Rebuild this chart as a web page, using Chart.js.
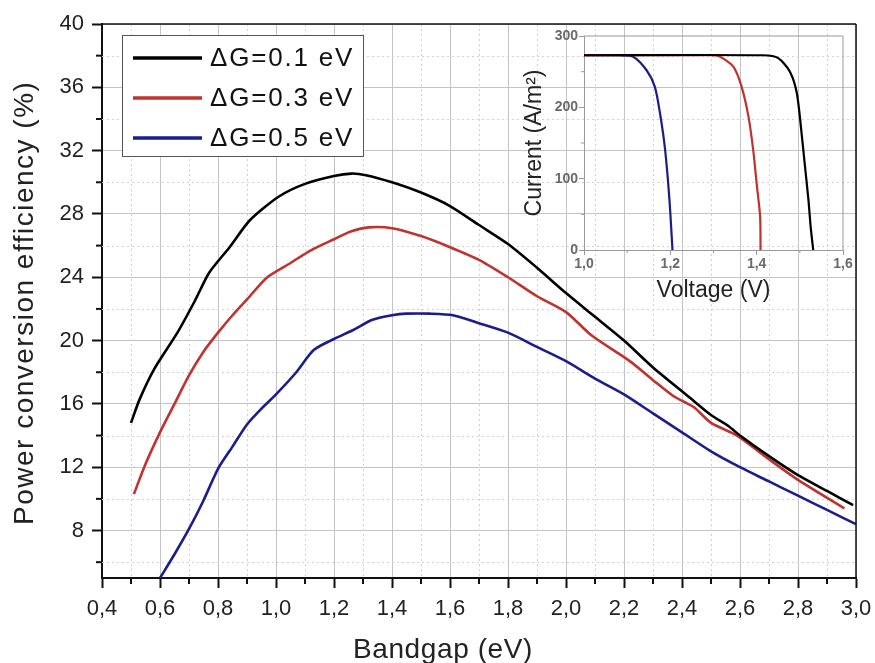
<!DOCTYPE html>
<html>
<head>
<meta charset="utf-8">
<title>Power conversion efficiency vs bandgap</title>
<script src="https://cdn.jsdelivr.net/npm/chart.js@4"></script>
<style>
    body { margin: 0; background: #fff; }
    #wrap { position: relative; width: 875px; height: 663px; }
    #main { position: absolute; left: 0; top: 0; }
    #inset { position: absolute; left: 500px; top: 20px; }
</style>
</head>
<body>

<div id="wrap">
    <canvas id="main" width="875" height="663"></canvas>
    <canvas id="inset" width="365" height="300"></canvas>
</div>

<script>
// ---- data ----
const seriesLabels = ['ΔG=0.1 eV', 'ΔG=0.3 eV', 'ΔG=0.5 eV'];
const seriesColors = ['#000000', '#c0322e', '#1c1c8a'];

// main plot: efficiency (%) vs bandgap (eV)
const gap01 = [0.50, 0.53, 0.58, 0.66, 0.72, 0.77, 0.84, 0.91, 1.01, 1.10, 1.20, 1.26, 1.31, 1.40, 1.50, 1.60, 1.70, 1.80, 1.90, 2.00, 2.10, 2.20, 2.30, 2.42, 2.50, 2.56, 2.60, 2.70, 2.80, 2.90, 2.99];
const eff01 = [14.8, 16.3, 18.2, 20.5, 22.5, 24.3, 25.9, 27.6, 29.1, 29.9, 30.4, 30.55, 30.45, 30.0, 29.35, 28.5, 27.3, 26.1, 24.6, 23.0, 21.5, 20.0, 18.3, 16.5, 15.3, 14.6, 14.0, 12.7, 11.5, 10.5, 9.6];

const gap03 = [0.51, 0.55, 0.60, 0.65, 0.70, 0.75, 0.80, 0.85, 0.90, 0.97, 1.05, 1.12, 1.20, 1.26, 1.32, 1.40, 1.50, 1.60, 1.70, 1.80, 1.90, 2.00, 2.09, 2.22, 2.30, 2.37, 2.44, 2.50, 2.59, 2.70, 2.80, 2.96];
const eff03 = [10.3, 12.2, 14.2, 16.0, 17.8, 19.3, 20.5, 21.6, 22.6, 24.0, 24.9, 25.7, 26.4, 26.9, 27.15, 27.1, 26.6, 25.9, 25.1, 24.0, 22.8, 21.8, 20.3, 18.7, 17.5, 16.5, 15.8, 14.8, 14.0, 12.5, 11.2, 9.4];

const gap05 = [0.60, 0.65, 0.70, 0.75, 0.80, 0.85, 0.90, 0.95, 1.00, 1.07, 1.13, 1.20, 1.27, 1.33, 1.40, 1.45, 1.53, 1.61, 1.70, 1.80, 1.90, 2.00, 2.10, 2.20, 2.30, 2.40, 2.50, 2.60, 2.70, 2.80, 2.90, 3.00];
const eff05 = [5.0, 6.5, 8.1, 9.9, 11.9, 13.3, 14.7, 15.7, 16.6, 18.0, 19.4, 20.1, 20.7, 21.3, 21.6, 21.7, 21.7, 21.6, 21.1, 20.5, 19.6, 18.7, 17.6, 16.6, 15.4, 14.2, 13.0, 12.0, 11.1, 10.2, 9.3, 8.4];

const xTicks = [0.4, 0.6, 0.8, 1.0, 1.2, 1.4, 1.6, 1.8, 2.0, 2.2, 2.4, 2.6, 2.8, 3.0];
const xMinor = [0.5, 0.7, 0.9, 1.1, 1.3, 1.5, 1.7, 1.9, 2.1, 2.3, 2.5, 2.7, 2.9];
const yTicks = [8, 12, 16, 20, 24, 28, 32, 36, 40];
const yMinor = [6, 10, 14, 18, 22, 26, 30, 34, 38];

// inset: current (A/m2) vs voltage (V)
const volt01 = [1.00, 1.415, 1.450, 1.477, 1.493, 1.504, 1.512, 1.520, 1.525, 1.531];
const curr01 = [273, 273, 269, 250, 220, 164, 117, 70, 33, 0];
const volt03 = [1.00, 1.292, 1.315, 1.346, 1.365, 1.381, 1.392, 1.400, 1.408, 1.409];
const curr03 = [273, 273, 271, 257, 229, 187, 140, 93, 47, 0];
const volt05 = [1.00, 1.083, 1.114, 1.145, 1.164, 1.176, 1.188, 1.198, 1.205];
const curr05 = [273, 273, 271, 252, 229, 192, 140, 70, 0];

const insetXTicks = [1.0, 1.2, 1.4, 1.6];
const insetXMinor = [1.1, 1.3, 1.5];
const insetYTicks = [0, 100, 200, 300];
const insetYMinor = [50, 150, 250];

// ---- helpers ----
const font = "'Liberation Sans', Arial, sans-serif";
const pts = (xs, ys) => xs.map((x, i) => ({ x: x, y: ys[i] }));
const comma = v => v.toFixed(1).replace('.', ',');

function seg(ctx, x1, y1, x2, y2) {
    ctx.beginPath();
    ctx.moveTo(x1, y1);
    ctx.lineTo(x2, y2);
    ctx.stroke();
}

// keep the plot edges where the figure has them, whatever the labels want
function fixBox(size, prop) {
    return ax => {
        ax[prop] = size;
        ax.paddingLeft = 0;
        ax.paddingRight = 0;
        ax.paddingTop = 0;
        ax.paddingBottom = 0;
    };
}

// minor grid, minor ticks, frame, axis titles and legend
const extras = {
    id: 'extras',
    beforeDatasetsDraw(chart, args, o) {
        if (!o.minorGrid) return;
        const { ctx, chartArea: a, scales: { x, y } } = chart;
        ctx.save();
        ctx.strokeStyle = o.minorGrid;
        ctx.lineWidth = 1;
        ctx.setLineDash([2, 3]);
        o.xMinor.forEach(v => {
            const px = Math.round(x.getPixelForValue(v)) + 0.5;
            seg(ctx, px, a.top, px, a.bottom);
        });
        o.yMinor.forEach(v => {
            const py = Math.round(y.getPixelForValue(v)) + 0.5;
            seg(ctx, a.left, py, a.right, py);
        });
        ctx.restore();
    },
    afterDraw(chart, args, o) {
        const { ctx, chartArea: a, scales: { x, y } } = chart;
        ctx.save();

        // minor ticks
        ctx.strokeStyle = o.tickColor;
        ctx.lineWidth = o.tickWidth;
        o.xMinor.forEach(v => {
            const px = x.getPixelForValue(v);
            seg(ctx, px, a.bottom, px, a.bottom + o.minorLen);
        });
        o.yMinor.forEach(v => {
            const py = y.getPixelForValue(v);
            seg(ctx, a.left - o.minorLen, py, a.left, py);
        });

        // top and right frame
        ctx.strokeStyle = o.frameColor;
        ctx.lineWidth = o.frameWidth;
        seg(ctx, a.left, a.top, a.right, a.top);
        seg(ctx, a.right, a.top, a.right, a.bottom);

        // axis titles (the figure sets them wide, so drawn here with spacing)
        if (o.titles) {
            ctx.fillStyle = '#222';
            ctx.textAlign = 'left';
            ctx.textBaseline = 'alphabetic';
            ctx.font = '28px ' + font;
            ctx.letterSpacing = '0.6px';
            ctx.fillText(o.titles.x, a.left + 251, a.bottom + 79.5);
            ctx.save();
            ctx.translate(a.left - 69, a.bottom - 53);
            ctx.rotate(-Math.PI / 2);
            ctx.letterSpacing = '1.5px';
            ctx.fillText(o.titles.y, 0, 0);
            ctx.restore();
        }

        // legend box
        if (o.legend) {
            const bx = a.left + 20, by = a.top + 11, bw = 241, bh = 121;
            ctx.fillStyle = '#fff';
            ctx.fillRect(bx, by, bw, bh);
            ctx.strokeStyle = '#555';
            ctx.lineWidth = 1;
            ctx.strokeRect(bx + 0.5, by + 0.5, bw, bh);
            ctx.font = '26px ' + font;
            ctx.textAlign = 'left';
            ctx.textBaseline = 'middle';
            ctx.letterSpacing = '1.8px';
            chart.data.datasets.forEach((ds, i) => {
                const ly = by + 23 + i * 40;
                ctx.strokeStyle = ds.borderColor;
                ctx.lineWidth = 3.5;
                seg(ctx, bx + 11, ly, bx + 80, ly);
                ctx.fillStyle = '#111';
                ctx.fillText(ds.label, bx + 88, ly + 1);
            });
        }
        ctx.restore();
    }
};

function lineSet(i, xs, ys, width) {
    return {
        label: seriesLabels[i],
        data: pts(xs, ys),
        borderColor: seriesColors[i],
        borderWidth: width,
        pointRadius: 0,
        tension: 0.25,
        fill: false
    };
}

// ---- main chart ----
new Chart(document.getElementById('main'), {
    type: 'line',
    data: {
        datasets: [
            lineSet(0, gap01, eff01, 2.6),
            lineSet(1, gap03, eff03, 2.6),
            lineSet(2, gap05, eff05, 2.6)
        ]
    },
    options: {
        responsive: false,
        animation: false,
        layout: { padding: { left: 0, top: 24, right: 19, bottom: 0 } },
        plugins: {
            legend: { display: false },
            tooltip: { enabled: false },
            extras: {
                xMinor: xMinor, yMinor: yMinor,
                minorGrid: '#d2d2d2', minorLen: 6,
                tickColor: '#111', tickWidth: 2,
                frameColor: '#111', frameWidth: 1.5,
                titles: { x: 'Bandgap (eV)', y: 'Power conversion efficiency (%)' },
                legend: true
            }
        },
        scales: {
            x: {
                type: 'linear', min: 0.4, max: 3.0,
                afterBuildTicks: ax => { ax.ticks = xTicks.map(v => ({ value: v })); },
                afterFit: fixBox(85, 'height'),
                ticks: { callback: comma, color: '#222', font: { family: font, size: 22 }, padding: 8, maxRotation: 0, autoSkip: false },
                grid: { color: '#c4c4c4', lineWidth: 1, tickLength: 10, tickColor: '#111', tickWidth: 2 },
                border: { color: '#111', width: 2 }
            },
            y: {
                type: 'linear', min: 5, max: 40,
                afterBuildTicks: ax => { ax.ticks = yTicks.map(v => ({ value: v })); },
                afterFit: fixBox(102, 'width'),
                ticks: { color: '#222', font: { family: font, size: 22 }, padding: 8, autoSkip: false },
                grid: { color: '#c4c4c4', lineWidth: 1, tickLength: 10, tickColor: '#111', tickWidth: 2 },
                border: { color: '#111', width: 2 }
            }
        }
    },
    plugins: [extras]
});

// ---- inset chart ----
new Chart(document.getElementById('inset'), {
    type: 'line',
    data: {
        datasets: [
            lineSet(0, volt01, curr01, 2.2),
            lineSet(1, volt03, curr03, 2.2),
            lineSet(2, volt05, curr05, 2.2)
        ]
    },
    options: {
        responsive: false,
        animation: false,
        layout: { padding: { left: 0, top: 16, right: 22, bottom: 0 } },
        plugins: {
            legend: { display: false },
            tooltip: { enabled: false },
            extras: {
                xMinor: insetXMinor, yMinor: insetYMinor,
                minorGrid: null, minorLen: 3,
                tickColor: '#999', tickWidth: 1,
                frameColor: '#999', frameWidth: 1,
                legend: false
            }
        },
        scales: {
            x: {
                type: 'linear', min: 1.0, max: 1.6,
                afterBuildTicks: ax => { ax.ticks = insetXTicks.map(v => ({ value: v })); },
                afterFit: fixBox(70, 'height'),
                ticks: { callback: comma, color: '#6a6a6a', font: { family: font, size: 14, weight: 'bold' }, padding: 1, maxRotation: 0, autoSkip: false },
                grid: { drawOnChartArea: false, tickLength: 5, tickColor: '#999', tickWidth: 1 },
                border: { color: '#999', width: 1 },
                title: { display: true, text: 'Voltage (V)', color: '#222', font: { family: font, size: 23 }, padding: { top: 0, bottom: 16 } }
            },
            y: {
                type: 'linear', min: 0, max: 300,
                afterBuildTicks: ax => { ax.ticks = insetYTicks.map(v => ({ value: v })); },
                afterFit: fixBox(84, 'width'),
                ticks: { color: '#6a6a6a', font: { family: font, size: 14, weight: 'bold' }, padding: 1, autoSkip: false },
                grid: { drawOnChartArea: false, tickLength: 5, tickColor: '#999', tickWidth: 1 },
                border: { color: '#999', width: 1 },
                title: { display: true, text: 'Current (A/m²)', color: '#222', font: { family: font, size: 23 }, padding: { top: 21, bottom: 0 } }
            }
        }
    },
    plugins: [extras]
});
</script>

</body>
</html>
